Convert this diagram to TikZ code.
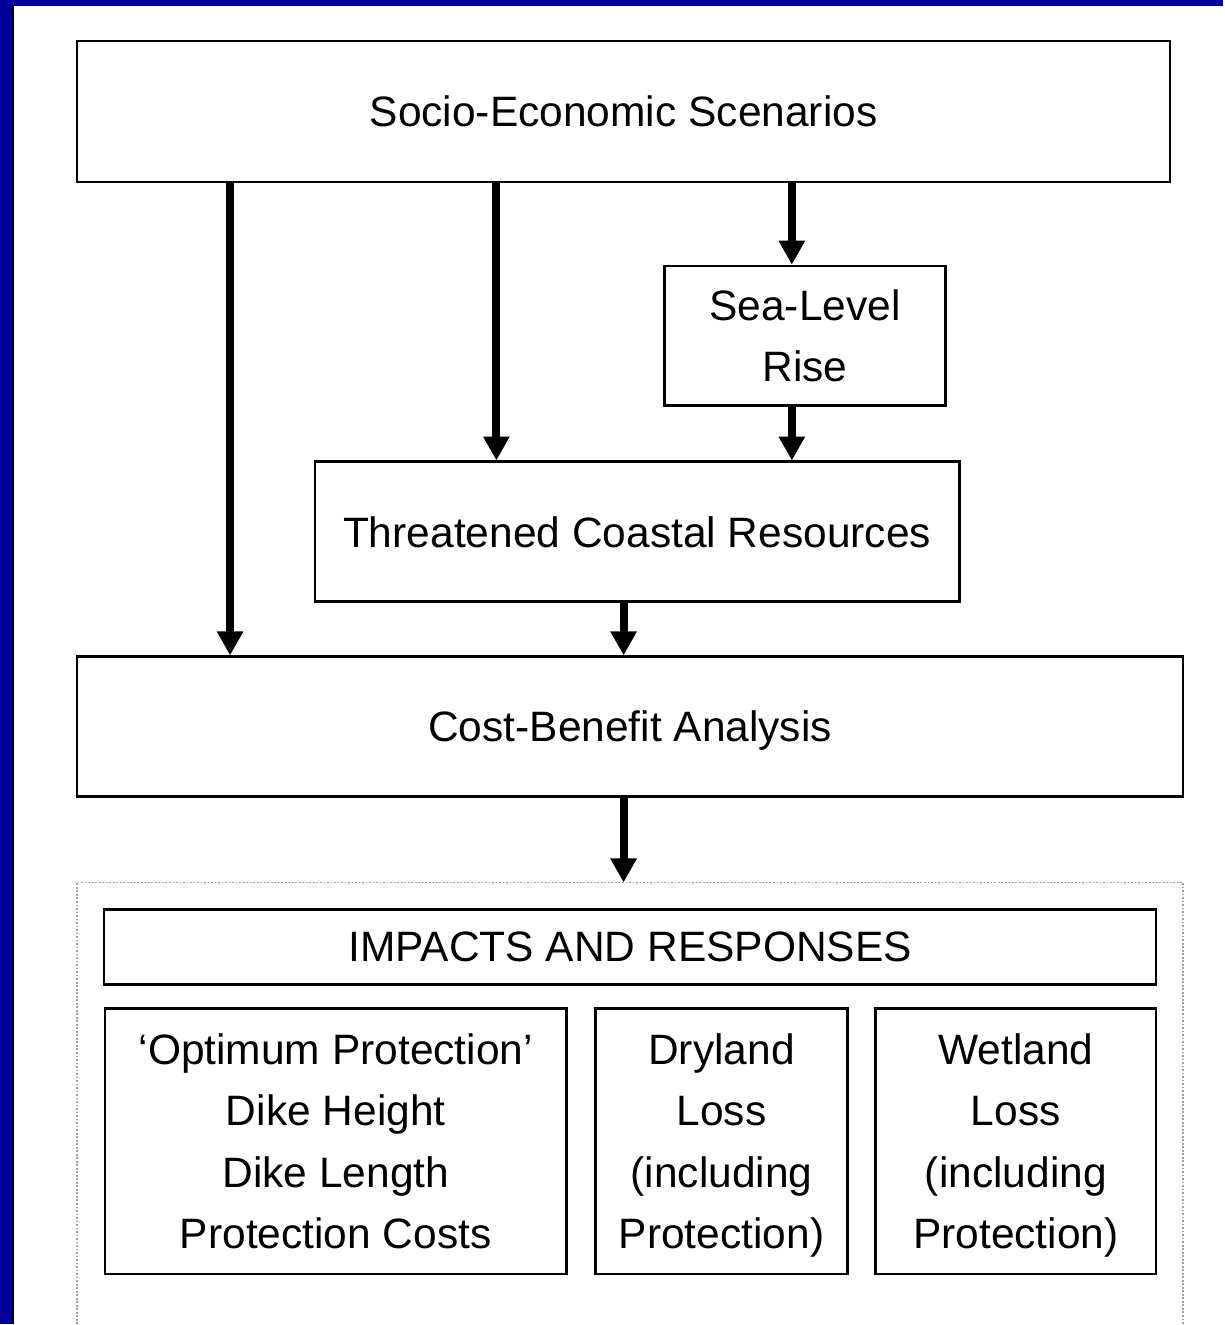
\documentclass[tikz,border=0pt]{standalone}
\usepackage{fontspec}
\setmainfont{Liberation Sans}
\usetikzlibrary{arrows.meta,positioning,calc}
\definecolor{slideblue}{HTML}{000099}
\definecolor{dotgray}{HTML}{A0A0A0}

\begin{document}
\begin{tikzpicture}[x=0.02cm,y=-0.02cm,
    box/.style={draw,line width=1.4pt,inner sep=0pt,align=center,text depth=0pt,
      font=\fontsize{24.2}{35}\selectfont},
    flow/.style={line width=4.6pt,-{Triangle[width=0.5cm,length=0.48cm]}}]
  % slide frame
  \fill[white] (0,0) rectangle (1224,1325);
  \fill[slideblue] (0,0) rectangle (1224,5);
  \fill[slideblue] (0,0) rectangle (12,1325);
  \draw[line width=1pt] (13,1325) |- (1224,5.5);
  % boxes
  \node[box,minimum width=21.88cm,minimum height=2.82cm] (socio) at (624,111.5) {Socio-Economic Scenarios};
  \node[box,minimum width=5.62cm,minimum height=2.8cm] (slr) at (805.5,336) {Sea-Level\\Rise};
  \node[box,minimum width=12.9cm,minimum height=2.8cm] (threat) at (637.5,532) {Threatened Coastal Resources};
  \node[box,minimum width=22.14cm,minimum height=2.8cm] (cba) at (630.5,727) {Cost-Benefit Analysis};
  % results
  \draw[dotgray,densely dotted,line width=1pt] (77,1325) |- (1184,883) -- (1184,1325);
  \coordinate (restop) at (624,883);
  \node[box,minimum width=21.06cm,minimum height=1.5cm] (impacts) at (630.5,947.5) {IMPACTS AND RESPONSES};
  \node[box,minimum width=9.24cm,minimum height=5.32cm] (optimum) at (336,1142)
    {‘Optimum Protection’\\Dike Height\\Dike Length\\Protection Costs};
  \node[box,minimum width=5.04cm,minimum height=5.32cm] (dryland) at (722,1142)
    {Dryland\\Loss\\(including\\Protection)};
  \node[box,minimum width=5.62cm,minimum height=5.32cm] (wetland) at (1016.5,1142)
    {Wetland\\Loss\\(including\\Protection)};
  % arrows
  \draw[flow] ($(socio.south west)!0.1408!(socio.south east)$) coordinate (c1) -- (c1 |- cba.north);
  \draw[flow] ($(socio.south west)!0.3839!(socio.south east)$) coordinate (c2) -- (c2 |- threat.north);
  \draw[flow] ($(socio.south west)!0.6536!(socio.south east)$) coordinate (c3) -- (c3 |- slr.north);
  \draw[flow] (slr.south -| c3) -- (threat.north -| c3);
  \draw[flow] (threat.south -| restop) -- (cba.north -| restop);
  \draw[flow] (cba.south -| restop) -- (restop);
\end{tikzpicture}
\end{document}
